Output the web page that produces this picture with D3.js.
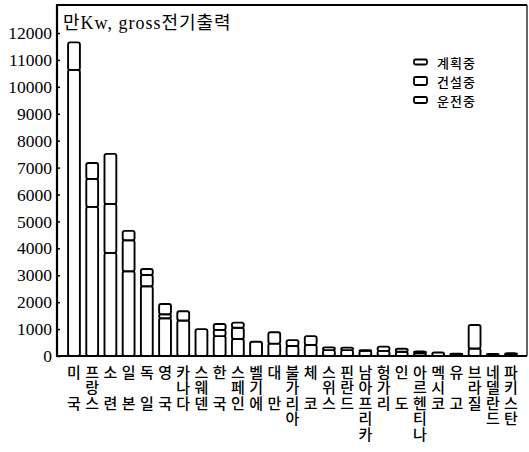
<!DOCTYPE html>
<html><head><meta charset="utf-8">
<script src="https://cdn.jsdelivr.net/npm/d3@7"></script>
<style>
html,body{margin:0;padding:0;background:#fff;}
svg{display:block;}
</style></head>
<body>
<svg id="chart" width="529" height="452"></svg>
<script>
const categories = ['미국','프랑스','소련','일본','독일','영국','카나다','스웨덴','한국','스페인','벨기에','대만','불가리아','체코','스위스','핀란드','남아프리카','헝가리','인도','아르헨티나','멕시코','유고','브라질','네델란드','파키스탄'];
const operating    = [10630,5540,3830,3150,2590,1400,1320,1000,740,630,530,460,370,410,220,220,190,190,160,100,0,70,280,60,40];
const construction = [1020,1040,1820,1150,420,150,340,0,230,420,0,420,220,330,100,90,30,160,110,70,130,20,870,20,0];
const planned      = [0,590,1860,350,220,380,0,0,220,190,0,0,0,0,0,0,0,0,0,0,0,0,0,0,60];
const yTicks = [0,1000,2000,3000,4000,5000,6000,7000,8000,9000,10000,11000,12000];
const legendOrder = ['계획중','건설중','운전중'];
const titleText = '만Kw, gross전기출력';

const svg = d3.select('#chart');
const frame = {left:57, right:527, top:5, bottom:356};

const x = d3.scaleBand().domain(categories).range([61.7, 523.3]).paddingInner(0.35).paddingOuter(0.35);
const y = d3.scaleLinear().domain([0,12000]).range([356,33]);

const rows = categories.map((c,i)=>({c, op:operating[i], con:construction[i], pl:planned[i]}));
const stack = d3.stack().keys(['op','con','pl'])(rows);

const serif = "'Liberation Serif','Noto Sans CJK KR',serif";
const kr = "'Noto Sans CJK KR',sans-serif";

// bars
const g = svg.append('g');
stack.forEach(layer=>{
  g.selectAll(null).data(layer.filter(d=>d[1]-d[0]>0)).enter().append('rect')
    .attr('x', d=>x(d.data.c))
    .attr('width', x.bandwidth())
    .attr('y', d=>y(d[1]))
    .attr('height', d=>y(d[0])-y(d[1]))
    .attr('rx', 2).attr('ry', 2)
    .attr('fill','#fff').attr('stroke','#000').attr('stroke-width',1.9);
});

// frame
svg.append('line').attr('x1',frame.left).attr('x2',frame.right).attr('y1',frame.top).attr('y2',frame.top).attr('stroke','#000').attr('stroke-width',2);
svg.append('line').attr('x1',frame.right).attr('x2',frame.right).attr('y1',frame.top).attr('y2',frame.bottom).attr('stroke','#000').attr('stroke-width',1.2);

// y axis
const yAxis = d3.axisLeft(y).tickValues(yTicks).tickSize(-3).tickPadding(5).tickFormat(d3.format('d'));
const ya = svg.append('g').attr('transform',`translate(${frame.left},0)`).call(yAxis);
ya.select('.domain').remove();
ya.selectAll('.tick line').attr('stroke','#000').attr('stroke-width',1.5);
ya.selectAll('.tick text').attr('font-family',serif).attr('font-size',17.5).attr('fill','#000');
svg.append('line').attr('x1',frame.left).attr('x2',frame.left).attr('y1',frame.top-1).attr('y2',frame.bottom+1).attr('stroke','#000').attr('stroke-width',2.2);

// x axis baseline
svg.append('line').attr('x1',frame.left).attr('x2',frame.right).attr('y1',frame.bottom).attr('y2',frame.bottom).attr('stroke','#000').attr('stroke-width',2.2);

// x labels: vertical text columns
const rowStep = 15.5, fs = 15, topY = 364.5;
categories.forEach(c=>{
  const chars = Array.from(c);
  const cx = x(c)+x.bandwidth()/2;
  const parts = chars.length===2 ? [[chars[0],0],[chars[1],2]] : [[c,0]];
  parts.forEach(([txt,row])=>{
    svg.append('text').attr('x', cx).attr('y', topY + row*rowStep)
      .style('writing-mode','vertical-rl').style('text-orientation','upright')
      .attr('letter-spacing', rowStep-fs)
      .attr('font-family',kr).attr('font-size',fs).attr('font-weight',500).attr('fill','#000').text(txt);
  });
});

// title
svg.append('text').attr('x',63).attr('y',29).attr('font-family',serif).attr('font-size',18).attr('letter-spacing',1).attr('fill','#000').text(titleText);

// legend
const legY = [62,81,100];
const symH = {'계획중':5,'건설중':8,'운전중':6};
legendOrder.forEach((n,i)=>{
  svg.append('rect').attr('x',414).attr('y',legY[i]-symH[n]/2).attr('width',13).attr('height',symH[n])
    .attr('rx',1.5).attr('fill','#fff').attr('stroke','#000').attr('stroke-width',1.8);
  svg.append('text').attr('x',437).attr('y',legY[i]).attr('dominant-baseline','central')
    .attr('font-family',kr).attr('font-size',13).attr('letter-spacing',1).attr('font-weight',500).attr('fill','#000').text(n);
});
</script>
</body></html>
